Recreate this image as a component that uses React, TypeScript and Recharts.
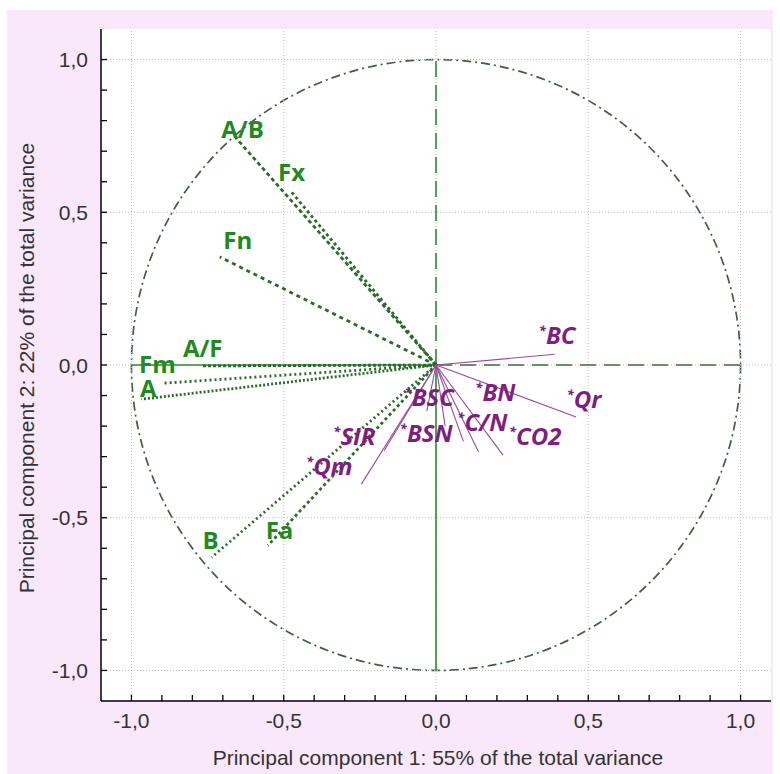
import React from 'react';
import { ComposedChart, Line, Scatter, XAxis, YAxis, ReferenceLine, ReferenceArea, CartesianGrid, Label } from 'recharts';

// ---- axes ----
const AXIS_DOMAIN = [-1.1, 1.1];
const TICKS = [-1.0, -0.9, -0.8, -0.7, -0.6, -0.5, -0.4, -0.3, -0.2, -0.1, 0, 0.1, 0.2, 0.3, 0.4, 0.5, 0.6, 0.7, 0.8, 0.9, 1.0];
const LABELED_TICKS = [-1.0, -0.5, 0, 0.5, 1.0];
const TICK_LABELS = ['-1,0', '-0,5', '0,0', '0,5', '1,0'];
const GRID_VALUES = [-1.0, -0.5, 0, 0.5, 1.0];
const X_TITLE = 'Principal component 1: 55% of the total variance';
const Y_TITLE = 'Principal component 2: 22% of the total variance';
const CIRCLE_R = 1;

// ---- green variables (vector ends + label positions) ----
const GREEN_NAMES = ['A/B', 'Fx', 'Fn', 'A/F', 'A', 'Fm', 'B', 'Fa'];
const GREEN_X = [-0.66, -0.475, -0.71, -0.77, -0.9, -0.967, -0.737, -0.552];
const GREEN_Y = [0.747, 0.567, 0.354, -0.003, -0.06, -0.112, -0.63, -0.591];
const GREEN_LABEL_X = [-0.635, -0.474, -0.651, -0.766, -0.945, -0.915, -0.74, -0.514];
const GREEN_LABEL_Y = [0.77, 0.631, 0.409, 0.055, -0.078, 0.002, -0.575, -0.542];

// ---- purple variables ----
const PURPLE_NAMES = ['BC', 'Qr', 'BN', 'C/N', 'CO2', 'BSC', 'BSN', 'SIR', 'Qm'];
const PURPLE_X = [0.39, 0.46, 0.09, 0.14, 0.22, -0.03, 0.03, -0.245, -0.17];
const PURPLE_Y = [0.035, -0.17, -0.25, -0.285, -0.295, -0.15, -0.2, -0.39, -0.28];
const PURPLE_LABEL_X = [0.398, 0.486, 0.195, 0.152, 0.326, -0.022, -0.032, -0.268, -0.35];
const PURPLE_LABEL_Y = [0.094, -0.116, -0.093, -0.191, -0.237, -0.109, -0.227, -0.237, -0.335];

const GREEN_LINE_STYLES = ['4 3', '3 3', '4 4', '3 2', '2 3', '2 2', '2 3', '3 3'];

const tickFont: React.CSSProperties = { fontFamily: '"Liberation Sans", Arial, sans-serif', fontSize: 21, fill: '#333' };
const titleFont: React.CSSProperties = { fontFamily: '"Liberation Sans", Arial, sans-serif', fontSize: 21, fill: '#333' };

const findLabel = (v: number) => {
  const i = LABELED_TICKS.findIndex((t) => Math.abs(t - v) < 1e-6);
  return i >= 0 ? TICK_LABELS[i] : null;
};

const BottomTick = (props: any) => {
  const { x, y, payload } = props;
  const lab = findLabel(payload.value);
  return (
    <g>
      <line x1={x} x2={x} y1={y} y2={y - 6} stroke="#000" strokeWidth={1.3} />
      {lab && (
        <text x={x} y={y + 27} textAnchor="middle" style={tickFont}>
          {lab}
        </text>
      )}
    </g>
  );
};
const TopTick = (props: any) => {
  const { x, y } = props;
  return <line x1={x} x2={x} y1={y} y2={y + 6} stroke="#000" strokeWidth={1.3} />;
};
const LeftTick = (props: any) => {
  const { x, y, payload } = props;
  const lab = findLabel(payload.value);
  return (
    <g>
      <line x1={x} x2={x + 6} y1={y} y2={y} stroke="#000" strokeWidth={1.3} />
      {lab && (
        <text x={x - 13} y={y + 7.5} textAnchor="end" style={tickFont}>
          {lab}
        </text>
      )}
    </g>
  );
};
const RightTick = (props: any) => {
  const { x, y } = props;
  return <line x1={x} x2={x - 6} y1={y} y2={y} stroke="#000" strokeWidth={1.3} />;
};

const greenLabels = GREEN_NAMES.map((name, i) => ({ name, x: GREEN_LABEL_X[i], y: GREEN_LABEL_Y[i] }));
const purpleLabels = PURPLE_NAMES.map((name, i) => ({ name, x: PURPLE_LABEL_X[i], y: PURPLE_LABEL_Y[i] }));

const GreenLabel = (props: any) => {
  const { cx, cy, payload } = props;
  return (
    <text
      x={cx}
      y={cy}
      dy="0.36em"
      textAnchor="middle"
      fill="#1f8a1f"
      style={{ fontFamily: '"Open Sans", sans-serif', fontWeight: 700, fontSize: 24 }}
    >
      {payload.name}
    </text>
  );
};

const PurpleLabel = (props: any) => {
  const { cx, cy, payload } = props;
  return (
    <text
      x={cx}
      y={cy + 8}
      textAnchor="middle"
      fill="#7d1e80"
      style={{ fontFamily: '"Open Sans", sans-serif', fontWeight: 700, fontStyle: 'italic', fontSize: 24 }}
    >
      <tspan fontSize={13} dy={-9}>*</tspan>
      <tspan dy={9}>{payload.name}</tspan>
    </text>
  );
};

const CircleShape = (p: any) => (
  <ellipse
    cx={p.x + p.width / 2}
    cy={p.y + p.height / 2}
    rx={Math.abs(p.width) / 2}
    ry={Math.abs(p.height) / 2}
    fill="none"
    stroke="#3f5f40"
    strokeWidth={1.7}
    strokeDasharray="9 4 2 4"
  />
);

const XTitle = (props: any) => {
  const vb = props.viewBox;
  return (
    <text x={vb.x + vb.width / 2 + 2} y={vb.y + 64} textAnchor="middle" style={titleFont}>
      {X_TITLE}
    </text>
  );
};
const YTitle = (props: any) => {
  const vb = props.viewBox;
  const cx = vb.x + 34;
  const cy = vb.y + vb.height / 2 + 3;
  return (
    <text x={cx} y={cy} textAnchor="middle" transform={`rotate(-90 ${cx} ${cy})`} style={titleFont}>
      {Y_TITLE}
    </text>
  );
};

export default function App() {
  return (
    <div>
      <div style={{ position: 'absolute', left: 7, top: 10, width: 766, height: 764, background: '#f9e8f9' }} />
      <div style={{ position: 'absolute', left: 0, top: 0 }}>
        <ComposedChart width={780} height={774} margin={{ top: 29, right: 9, bottom: 0, left: 0 }}>
          <CartesianGrid horizontal={false} vertical={false} fill="#ffffff" />
          <XAxis
            dataKey="x"
            type="number"
            domain={AXIS_DOMAIN}
            allowDataOverflow
            ticks={TICKS}
            interval={0}
            height={73}
            tickSize={0}
            tickMargin={0}
            tickLine={false}
            axisLine={{ stroke: '#000', strokeWidth: 1.5 }}
            tick={<BottomTick />}
          >
            <Label content={<XTitle />} />
          </XAxis>
          <XAxis
            xAxisId="top"
            orientation="top"
            dataKey="x"
            type="number"
            domain={AXIS_DOMAIN}
            allowDataOverflow
            ticks={TICKS}
            interval={0}
            height={0}
            tickSize={0}
            tickMargin={0}
            tickLine={false}
            axisLine={{ stroke: '#000', strokeWidth: 1.5 }}
            tick={<TopTick />}
          />
          <YAxis
            type="number"
            domain={AXIS_DOMAIN}
            allowDataOverflow
            ticks={TICKS}
            interval={0}
            width={101}
            tickSize={0}
            tickMargin={0}
            tickLine={false}
            axisLine={{ stroke: '#000', strokeWidth: 1.5 }}
            tick={<LeftTick />}
          >
            <Label content={<YTitle />} />
          </YAxis>
          <YAxis
            yAxisId="right"
            orientation="right"
            type="number"
            domain={AXIS_DOMAIN}
            allowDataOverflow
            ticks={TICKS}
            interval={0}
            width={0}
            tickSize={0}
            tickMargin={0}
            tickLine={false}
            axisLine={{ stroke: '#000', strokeWidth: 1.5 }}
            tick={<RightTick />}
          />

          {GRID_VALUES.map((v) => (
            <ReferenceLine key={'gx' + v} x={v} stroke="#bdbdbd" strokeDasharray="1 2" />
          ))}
          {GRID_VALUES.map((v) => (
            <ReferenceLine key={'gy' + v} y={v} stroke="#bdbdbd" strokeDasharray="1 2" />
          ))}

          <ReferenceArea x1={-CIRCLE_R} x2={CIRCLE_R} y1={-CIRCLE_R} y2={CIRCLE_R} shape={CircleShape} />

          <ReferenceLine segment={[{ x: 0, y: 0 }, { x: 0, y: CIRCLE_R }]} stroke="#2f8a2f" strokeWidth={1.6} strokeDasharray="16 8" />
          <ReferenceLine segment={[{ x: 0, y: -CIRCLE_R }, { x: 0, y: 0 }]} stroke="#2f8a2f" strokeWidth={1.6} />
          <ReferenceLine segment={[{ x: 0, y: 0 }, { x: CIRCLE_R, y: 0 }]} stroke="#3d6e3d" strokeWidth={1.6} strokeDasharray="16 8" />
          <ReferenceLine segment={[{ x: -CIRCLE_R, y: 0 }, { x: 0, y: 0 }]} stroke="#2f8a2f" strokeWidth={1.6} />

          {GREEN_NAMES.map((name, i) => (
            <Line
              key={'g' + name}
              data={[{ x: 0, y: 0 }, { x: GREEN_X[i], y: GREEN_Y[i] }]}
              dataKey="y"
              stroke="#2b6b2b"
              strokeWidth={2.8}
              strokeDasharray={GREEN_LINE_STYLES[i]}
              dot={false}
              activeDot={false}
              isAnimationActive={false}
              legendType="none"
            />
          ))}
          {PURPLE_NAMES.map((name, i) => (
            <Line
              key={'p' + name}
              data={[{ x: 0, y: 0 }, { x: PURPLE_X[i], y: PURPLE_Y[i] }]}
              dataKey="y"
              stroke="#9a4a9c"
              strokeWidth={1.1}
              dot={false}
              activeDot={false}
              isAnimationActive={false}
              legendType="none"
            />
          ))}

          <Scatter data={greenLabels} dataKey="y" shape={<GreenLabel />} isAnimationActive={false} />
          <Scatter data={purpleLabels} dataKey="y" shape={<PurpleLabel />} isAnimationActive={false} />
        </ComposedChart>
      </div>
    </div>
  );
}
